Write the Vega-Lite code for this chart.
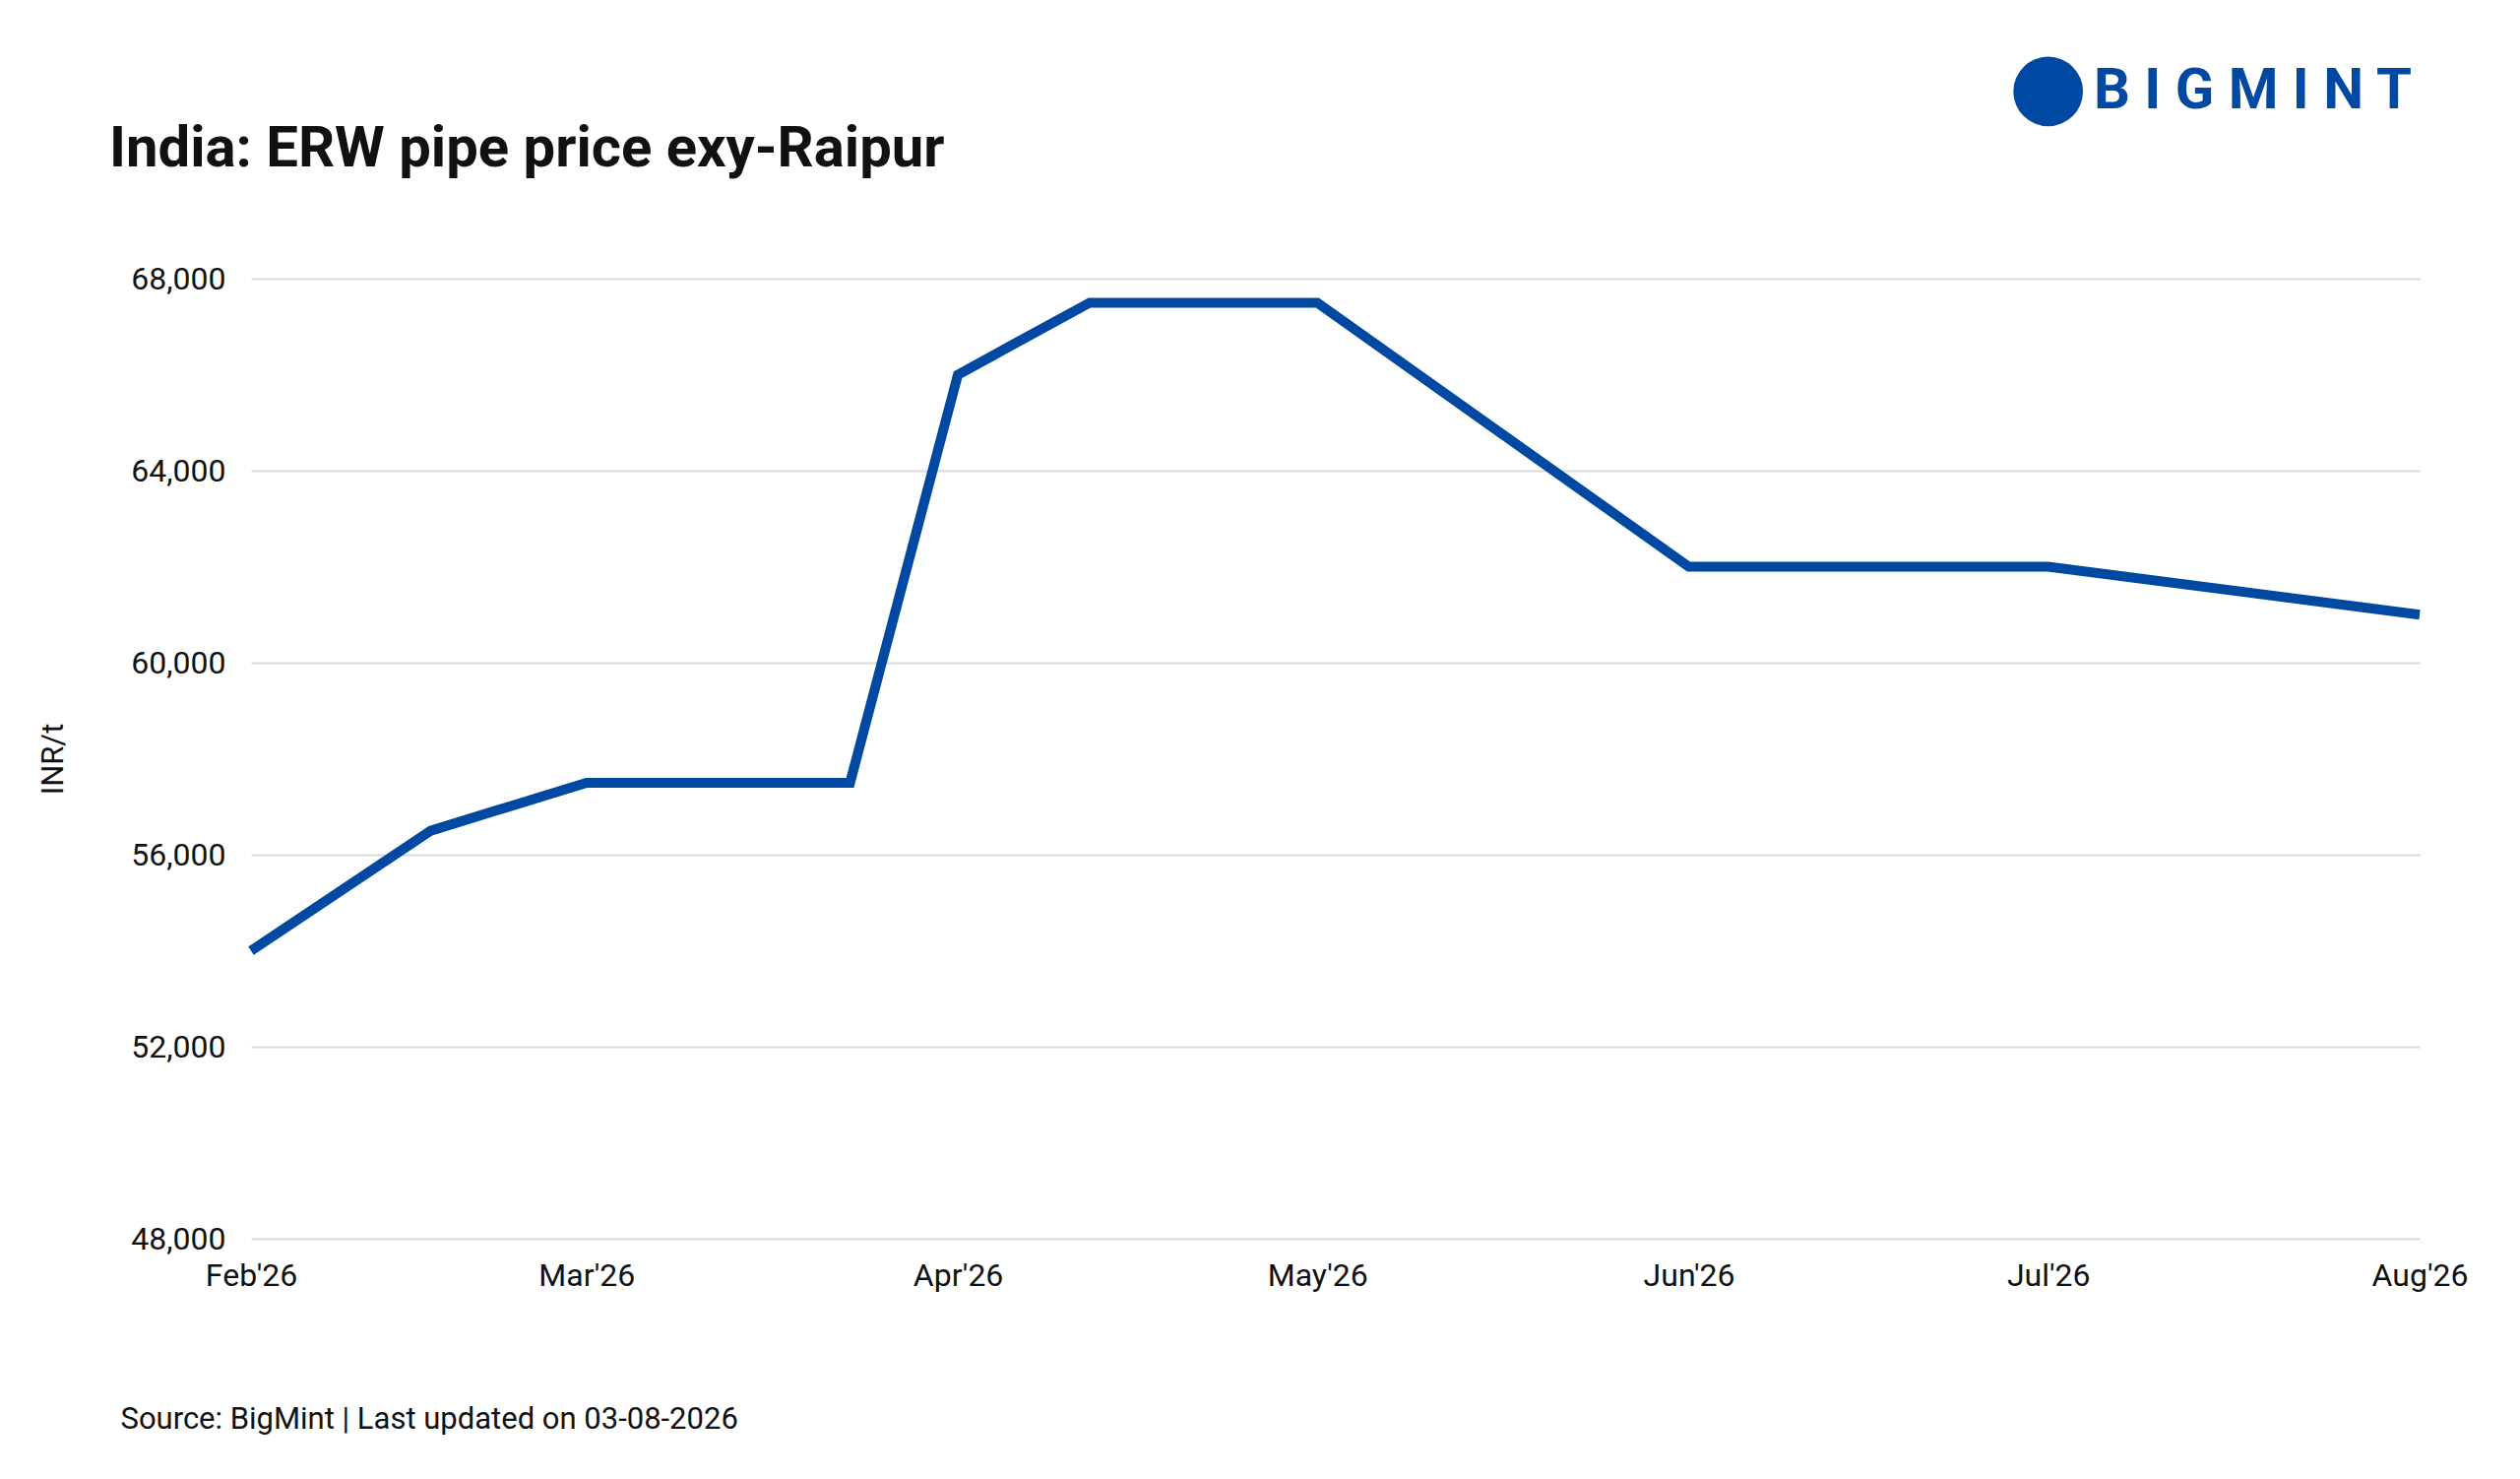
{
  "$schema": "https://vega.github.io/schema/vega-lite/v6.json",
  "width": 2203,
  "height": 975,
  "autosize": "none",
  "padding": {"left": 255, "top": 283, "right": 102, "bottom": 244},
  "background": "white",
  "config": {"view": {"stroke": null}, "font": "Roboto"},
  "title": {
    "text": "India: ERW pipe price exy-Raipur",
    "anchor": "start",
    "frame": "group",
    "dx": -144,
    "offset": -169,
    "baseline": "alphabetic",
    "fontSize": 58,
    "fontWeight": "bold",
    "color": "#111111"
  },
  "data": {
    "values": [
      {"date": "2026-02-01", "price": 54000},
      {"date": "2026-02-16", "price": 56500},
      {"date": "2026-03-01", "price": 57500},
      {"date": "2026-03-23", "price": 57500},
      {"date": "2026-04-01", "price": 66000},
      {"date": "2026-04-12", "price": 67500},
      {"date": "2026-05-01", "price": 67500},
      {"date": "2026-06-01", "price": 62000},
      {"date": "2026-07-01", "price": 62000},
      {"date": "2026-08-01", "price": 61000}
    ]
  },
  "layer": [
    {
      "mark": {"type": "line", "color": "#0049a3", "strokeWidth": 10, "strokeJoin": "miter", "clip": false},
      "encoding": {
        "x": {
          "field": "date", "type": "temporal",
          "scale": {"domain": ["2026-02-01", "2026-08-01"]},
          "axis": {
            "format": "%b'%y", "tickCount": {"interval": "month", "step": 1},
            "grid": false, "domain": false, "ticks": false,
            "labelFontSize": 32, "labelColor": "#111111", "labelPadding": 22,
            "labelAlign": "center", "labelOverlap": false,
            "title": "Source: BigMint | Last updated on 03-08-2026",
            "titleFontSize": 31, "titleFontWeight": "normal", "titleColor": "#111111",
            "titleAnchor": "start", "titleAlign": "left", "titleBaseline": "alphabetic",
            "titleX": -133, "titleY": 192
          }
        },
        "y": {
          "field": "price", "type": "quantitative",
          "scale": {"domain": [48000, 68000]},
          "axis": {
            "values": [48000, 52000, 56000, 60000, 64000, 68000],
            "format": ",.0f",
            "domain": false, "ticks": false,
            "gridColor": "#d9d9d9", "gridWidth": 2,
            "labelFontSize": 32, "labelColor": "#111111", "labelPadding": 26,
            "title": "INR/t", "titleFontSize": 31, "titleFontWeight": "normal",
            "titleColor": "#111111", "titlePadding": 62
          }
        }
      }
    },
    {
      "data": {"values": [{"date": "2026-07-01", "y": 71900}]},
      "mark": {"type": "point", "shape": "circle", "filled": true, "size": 5000, "color": "#0049a3", "opacity": 1, "clip": false},
      "encoding": {
        "x": {"field": "date", "type": "temporal"},
        "y": {"field": "y", "type": "quantitative"}
      }
    },
    {
      "data": {"values": [{"date": "2026-08-01", "y": 71900, "label": "B I G M I N T"}]},
      "mark": {"type": "text", "align": "right", "baseline": "middle", "dx": -8, "fontSize": 58, "fontWeight": "bold", "color": "#0049a3", "clip": false},
      "encoding": {
        "x": {"field": "date", "type": "temporal"},
        "y": {"field": "y", "type": "quantitative"},
        "text": {"field": "label"}
      }
    }
  ]
}
